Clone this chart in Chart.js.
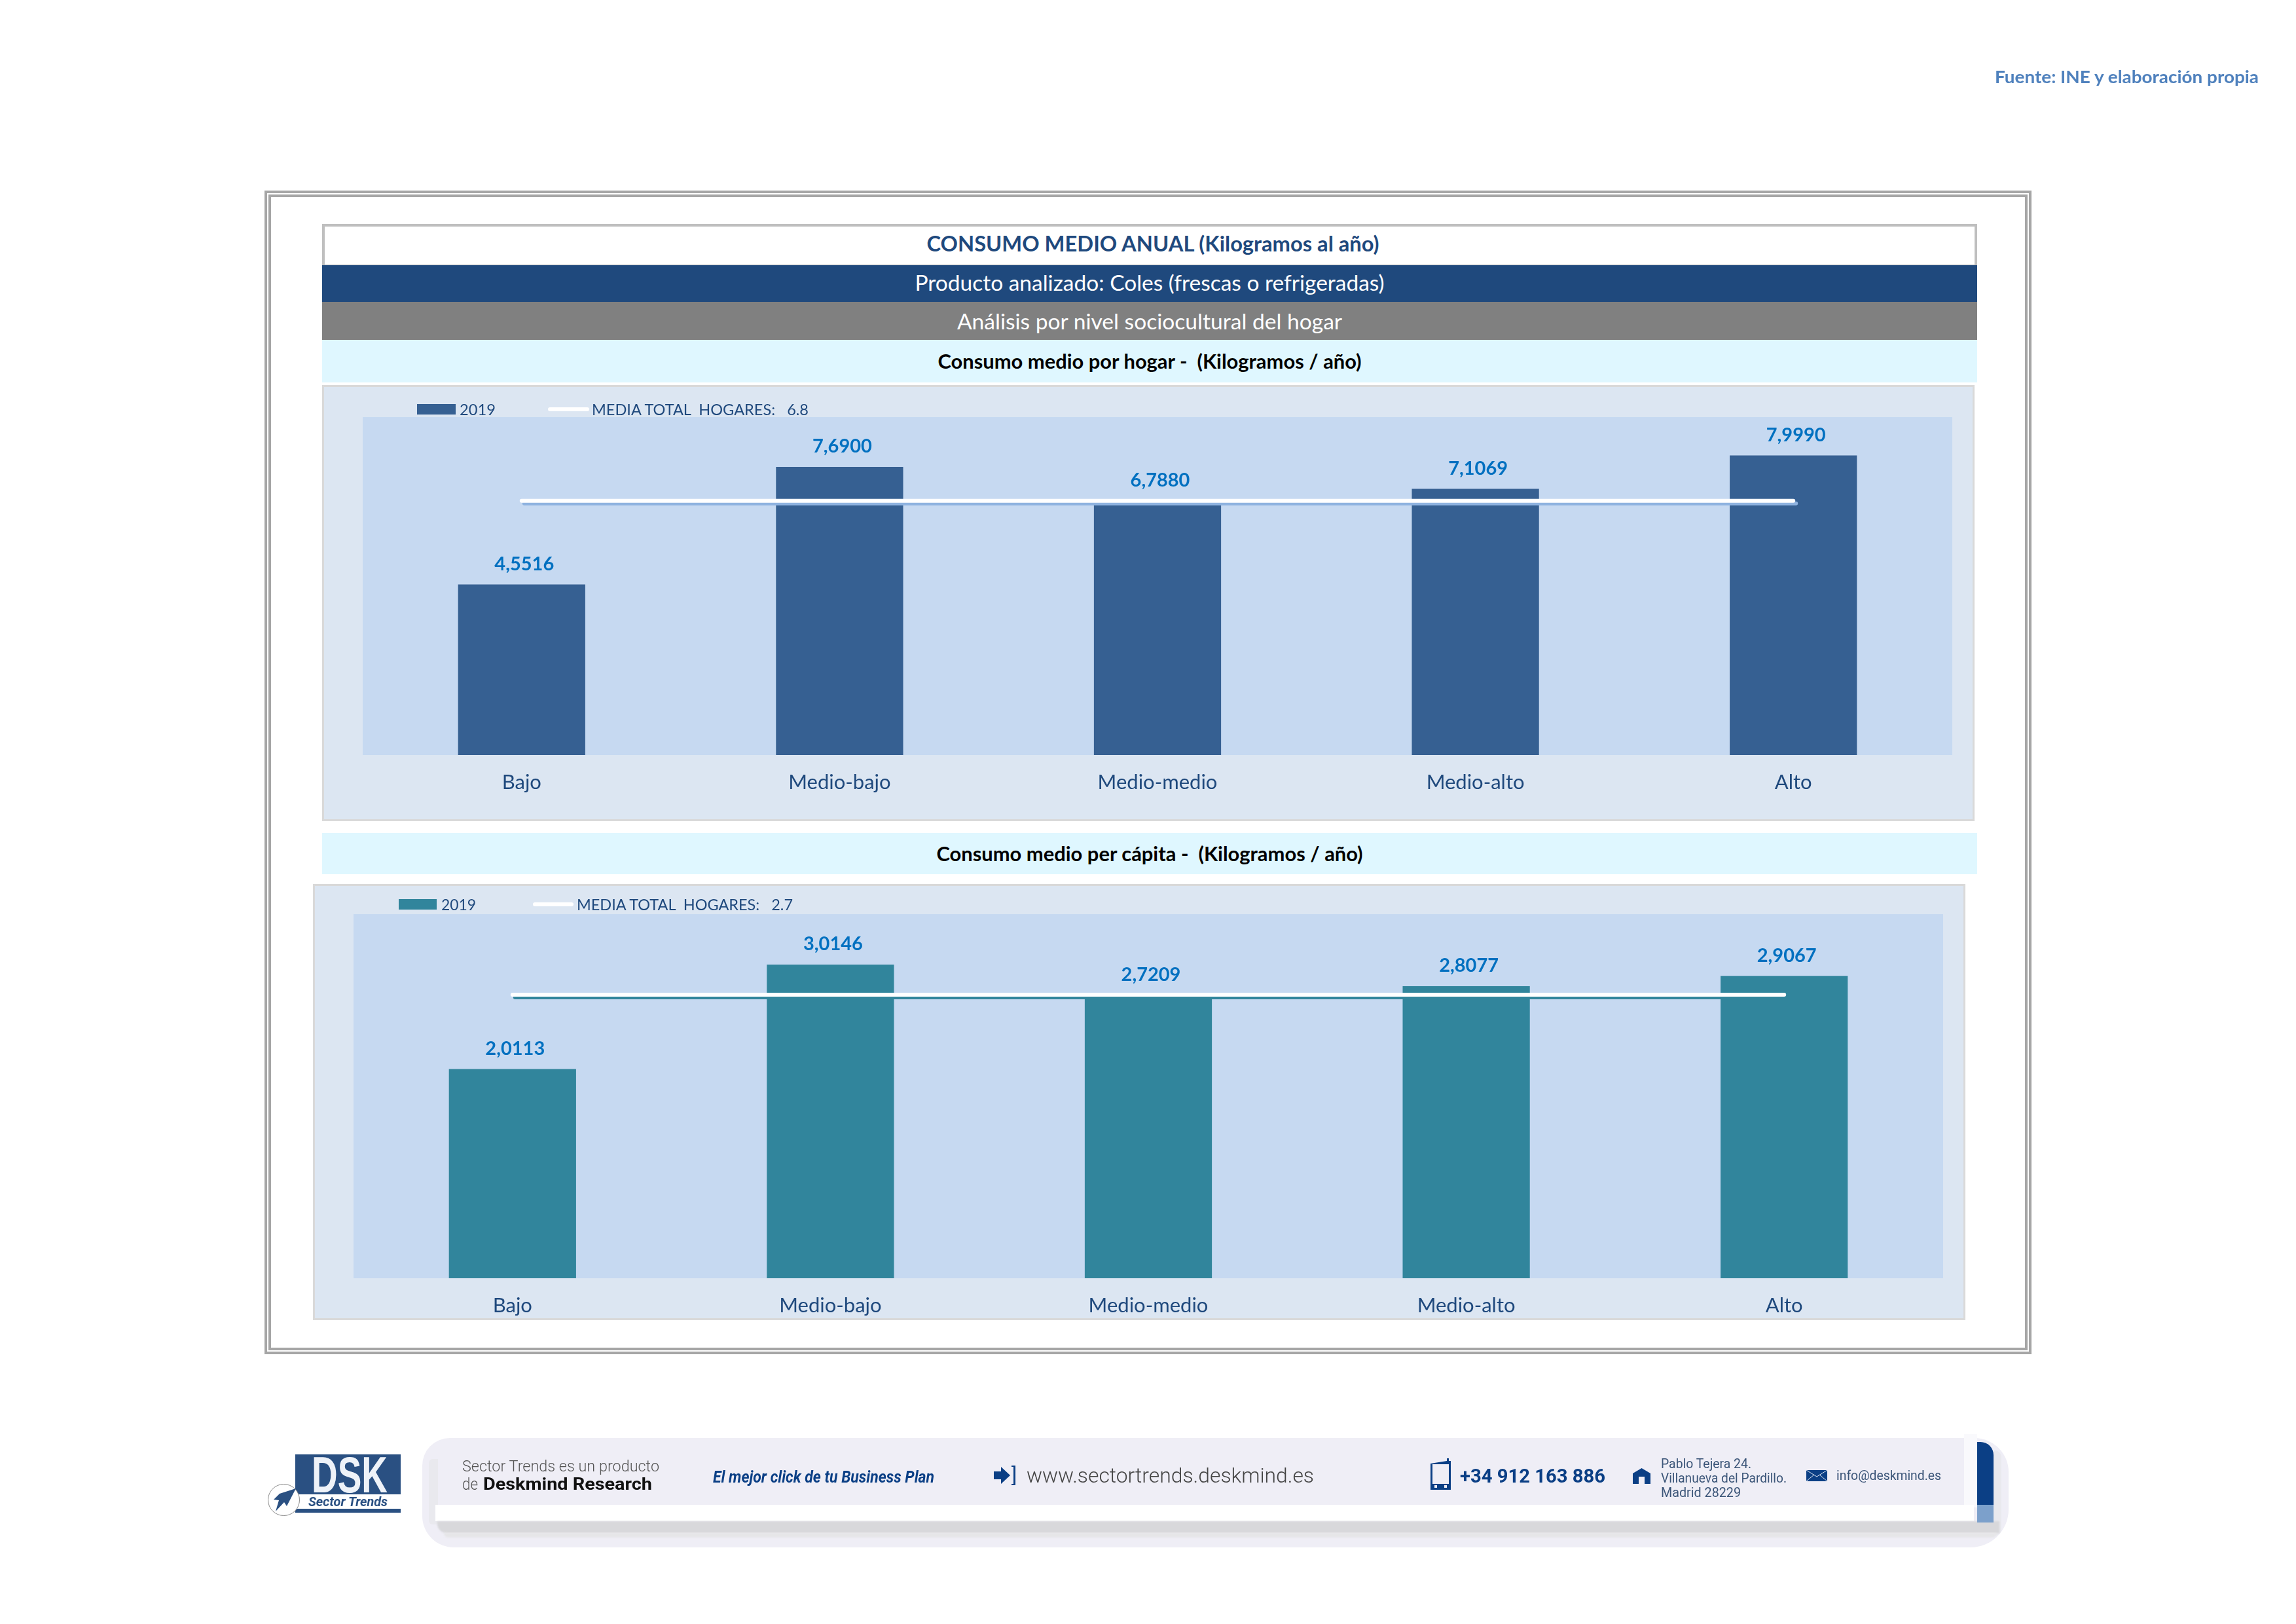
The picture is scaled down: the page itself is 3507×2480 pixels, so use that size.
<!DOCTYPE html>
<html lang="es">
<head>
<meta charset="utf-8">
<title>Consumo medio anual - Coles</title>
<script src="https://cdn.jsdelivr.net/npm/chart.js@4/dist/chart.umd.min.js"></script>
<style>
  html, body { margin: 0; padding: 0; background: #fff; }
  #page { position: relative; width: 3507px; height: 2480px; overflow: hidden; font-family: Lato, sans-serif; }
  #page div, #page span, #page canvas, #page svg { position: absolute; display: block; box-sizing: border-box; }
  .row { text-align: center; white-space: pre; }
  .t { white-space: pre; transform-origin: left center; line-height: 1; }
  canvas { background: #dce6f2; outline: 3px solid #d9d9d9; outline-offset: -3px; }
</style>
</head>
<body>
<div id="page">
  <div class="t" style="left:3047px;top:103px;font-size:27px;font-weight:700;color:#4f81bd" data-w="403">Fuente: INE y elaboración propia</div>

  <div style="left:404px;top:291px;width:2699px;height:1777px;border:4px solid #a6a6a6"></div>
  <div style="left:410px;top:297px;width:2687px;height:1765px;border:4px solid #a6a6a6"></div>

  <div class="row" style="left:492px;top:342px;width:2528px;height:66px;border:4px solid #bfbfbf;line-height:52px;font-size:32.700px;font-weight:700;color:#1f497d;padding-left:10px">CONSUMO MEDIO ANUAL (Kilogramos al año)</div>
  <div class="row" style="left:492px;top:405px;width:2528px;height:56px;background:#1f497d;line-height:52px;font-size:33.500px;color:#fff">Producto analizado: Coles (frescas o refrigeradas)</div>
  <div class="row" style="left:492px;top:461px;width:2528px;height:58px;background:#808080;line-height:58px;font-size:33.600px;color:#fff">Análisis por nivel sociocultural del hogar</div>
  <div class="row" style="left:492px;top:519px;width:2528px;height:65px;background:#dff7ff;line-height:65px;font-size:30.900px;font-weight:700;color:#000">Consumo medio por hogar -  (Kilogramos / año)</div>
  <div class="row" style="left:492px;top:1272px;width:2528px;height:63px;background:#dff7ff;line-height:63px;font-size:30.900px;font-weight:700;color:#000">Consumo medio per cápita -  (Kilogramos / año)</div>

  <canvas id="chartHogar" width="2524" height="666" style="left:492px;top:588px"></canvas>
  <canvas id="chartCapita" width="2524" height="666" style="left:478px;top:1350px"></canvas>

  <!-- leyendas -->
  <div id="swatchHogar" style="left:637px;top:617px;width:59px;height:16px"></div>
  <div id="yearHogar" class="t" style="left:702px;top:613px;font-size:24px;color:#1f497d" data-w="55"></div>
  <div style="left:837px;top:622px;width:63px;height:6px;border-radius:3px;background:#fff"></div>
  <div id="meanHogar" class="t" style="left:904px;top:613px;font-size:24px;color:#1f497d" data-w="331"></div>

  <div id="swatchCapita" style="left:609px;top:1373px;width:58px;height:16px"></div>
  <div id="yearCapita" class="t" style="left:674px;top:1369px;font-size:24px;color:#1f497d" data-w="53"></div>
  <div style="left:814px;top:1378px;width:62px;height:6px;border-radius:3px;background:#fff"></div>
  <div id="meanCapita" class="t" style="left:881px;top:1369px;font-size:24px;color:#1f497d" data-w="330"></div>

  <!-- pie -->
  <div style="left:645px;top:2196px;width:2423px;height:167px;border-radius:42px 52px 58px 48px;background:#efeef6"></div>
  <div style="left:3000px;top:2190px;width:20px;height:112px;background:#f9f9fc"></div>
  <div style="left:655px;top:2228px;width:14px;height:100px;background:#e9e9ee;border-radius:6px 0 0 6px"></div>
  <div style="left:3045px;top:2215px;width:12px;height:130px;background:#e9e9ee;border-radius:0 10px 10px 0"></div>
  <div style="left:665px;top:2298px;width:2350px;height:25px;background:#fff"></div>
  <div style="left:668px;top:2323px;width:2386px;height:18px;background:#d8d8db;border-radius:0 0 0 14px;filter:blur(1px)"></div>
  <div style="left:678px;top:2341px;width:2372px;height:7px;background:#e6e6e8;border-radius:0 0 10px 10px;filter:blur(1px)"></div>
  <div style="left:3020px;top:2202px;width:25px;height:96px;background:#0b3f85;border-radius:0 20px 0 0"></div>
  <div style="left:3020px;top:2298px;width:25px;height:27px;background:#7ca0cb"></div>

  <div class="t" style="left:706px;top:2227px;font-family:Roboto;font-size:24px;font-weight:300;color:#555" data-w="301">Sector Trends es un producto</div>
  <div class="t" style="left:706px;top:2253px;font-family:Roboto;font-size:26px;font-weight:300;color:#555" data-w="24">de</div>
  <div class="t" style="left:738px;top:2253px;font-family:Roboto;font-size:26px;font-weight:700;color:#111" data-w="258">Deskmind Research</div>
  <div class="t" style="left:1089px;top:2243px;font-family:Roboto;font-size:25px;font-weight:700;font-style:italic;color:#0b3f85" data-w="338">El mejor click de tu Business Plan</div>
  <svg style="left:1518px;top:2237px" width="34" height="32" viewBox="0 0 34 32"><path d="M0 10h11V3l14 13-14 13v-7H0z" fill="#0b3f85"/><path d="M27 1h6v30h-6v-2h3V3h-3z" fill="#0b3f85"/></svg>
  <div class="t" style="left:1568px;top:2237px;font-family:Roboto;font-size:32px;font-weight:300;color:#444" data-w="439">www.sectortrends.deskmind.es</div>
  <svg style="left:2185px;top:2227px" width="31" height="48" viewBox="0 0 31 48"><path d="M25 0h3v4h3v44H0V8l25-4z" fill="#0b3f85"/><rect x="3" y="9" width="25" height="30" fill="#efeef6"/><rect x="6" y="41" width="4" height="4" fill="#efeef6"/><rect x="21" y="41" width="4" height="4" fill="#efeef6"/></svg>
  <div class="t" style="left:2230px;top:2239px;font-family:Roboto;font-size:30px;font-weight:700;color:#0b3f85" data-w="222">+34 912 163 886</div>
  <svg style="left:2494px;top:2242px" width="27" height="24" viewBox="0 0 27 24"><path d="M13.500 0L27 8v16h-9V13H9v11H0V8z" fill="#0b3f85"/></svg>
  <div class="t" style="left:2537px;top:2225px;font-family:Roboto;font-size:20px;color:#3b5578" data-w="138">Pablo Tejera 24.</div>
  <div class="t" style="left:2537px;top:2247px;font-family:Roboto;font-size:20px;color:#3b5578" data-w="192">Villanueva del Pardillo.</div>
  <div class="t" style="left:2537px;top:2269px;font-family:Roboto;font-size:20px;color:#3b5578" data-w="122">Madrid 28229</div>
  <svg style="left:2759px;top:2245px" width="32" height="17" viewBox="0 0 32 17"><rect width="32" height="17" fill="#0b3f85"/><path d="M0 0l16 10L32 0M0 17l12-10M32 17L20 7" stroke="#dde6f2" stroke-width="1" fill="none"/></svg>
  <div class="t" style="left:2805px;top:2243px;font-family:Roboto;font-size:20px;color:#3b5578" data-w="160">info@deskmind.es</div>

  <!-- logo -->
  <div style="left:451px;top:2221px;width:161px;height:61px;background:#2a5082"></div>
  <div style="left:451px;top:2304px;width:161px;height:6px;background:#2a5082"></div>
  <div class="t" style="left:476px;top:2213px;font-family:'Liberation Sans';font-size:78px;font-weight:700;color:#eef2f8" data-w="116">DSK</div>
  <div class="t" style="left:471px;top:2283px;font-family:Roboto;font-size:20px;font-weight:700;font-style:italic;color:#2a5082" data-w="121">Sector Trends</div>
  <div style="left:409px;top:2266px;width:49px;height:49px;border:1px solid #888;border-radius:50%;background:#fff"></div>
  <svg style="left:415px;top:2272px" width="38" height="38" viewBox="0 0 38 38"><path d="M37 1L12 9 3 18l8 1-5 17 13-14 4 6z" fill="#2a5082"/></svg>
</div>

<script>
const categories = ['Bajo', 'Medio-bajo', 'Medio-medio', 'Medio-alto', 'Alto'];
const consumoHogar = [4.5516, 7.6900, 6.7880, 7.1069, 7.9990];
const consumoCapita = [2.0113, 3.0146, 2.7209, 2.8077, 2.9067];
const mediaHogar = [6.788, 6.788, 6.788, 6.788, 6.788];
const mediaCapita = [2.725, 2.725, 2.725, 2.725, 2.725];
const yearLabel = '2019';
const mediaHogarLabel = 'MEDIA TOTAL  HOGARES:   6.8';
const mediaCapitaLabel = 'MEDIA TOTAL  HOGARES:   2.7';

// fondo del area de trazado
const plotBackground = {
  id: 'plotBackground',
  beforeDraw(chart) {
    const { ctx, chartArea: a } = chart;
    ctx.save();
    ctx.fillStyle = '#c6d9f1';
    ctx.fillRect(a.left, a.top, a.width, a.height);
    ctx.restore();
  }
};

// sombra de la linea de media
const lineShadow = {
  id: 'lineShadow',
  beforeDatasetDraw(chart, args, opts) {
    if (args.meta.type !== 'line') return;
    const ctx = chart.ctx;
    ctx.save();
    ctx.shadowColor = opts.color;
    ctx.shadowOffsetX = 4;
    ctx.shadowOffsetY = 4;
    ctx.shadowBlur = 0;
  },
  afterDatasetDraw(chart, args) {
    if (args.meta.type === 'line') chart.ctx.restore();
  }
};

// valores encima de las barras
const valueLabels = {
  id: 'valueLabels',
  afterDatasetsDraw(chart) {
    const ctx = chart.ctx;
    const meta = chart.getDatasetMeta(0);
    ctx.save();
    ctx.font = '700 29px Lato';
    ctx.fillStyle = '#0070c0';
    ctx.textAlign = 'center';
    ctx.textBaseline = 'middle';
    meta.data.forEach((bar, i) => {
      const value = chart.data.datasets[0].data[i];
      ctx.fillText(value.toFixed(4).replace('.', ','), bar.x + 4, bar.y - 31);
    });
    ctx.restore();
  }
};

function drawChart(id, values, mean, meanLabel, color, shadow, yMax, padding, axisHeight) {
  return new Chart(document.getElementById(id), {
    type: 'bar',
    data: {
      labels: categories,
      datasets: [
        { type: 'bar', label: yearLabel, data: values, backgroundColor: color,
          barPercentage: 0.4, categoryPercentage: 1, order: 2 },
        { type: 'line', label: meanLabel, data: mean, borderColor: '#fff', borderWidth: 6,
          borderCapStyle: 'round', pointRadius: 0, tension: 0, order: 1 }
      ]
    },
    options: {
      responsive: false,
      animation: false,
      devicePixelRatio: 1,
      layout: { padding },
      plugins: {
        legend: { display: false },
        tooltip: { enabled: false },
        lineShadow: { color: shadow }
      },
      scales: {
        x: {
          grid: { display: false },
          border: { display: false },
          ticks: { color: '#1f497d', font: { family: 'Lato', size: 31 }, padding: 15, maxRotation: 0 },
          afterFit(scale) { scale.height = axisHeight; }
        },
        y: { display: false, min: 0, max: yMax }
      }
    },
    plugins: [plotBackground, lineShadow, valueLabels]
  });
}

drawChart('chartHogar', consumoHogar, mediaHogar, mediaHogarLabel, '#366092', '#8fb3e0', 9.02,
  { left: 62, right: 34, top: 49, bottom: 0 }, 101);
drawChart('chartCapita', consumoCapita, mediaCapita, mediaCapitaLabel, '#31859c', '#31859c', 3.5,
  { left: 62, right: 34, top: 46, bottom: 0 }, 64);

document.getElementById('swatchHogar').style.background = '#366092';
document.getElementById('swatchCapita').style.background = '#31859c';
document.getElementById('yearHogar').textContent = yearLabel;
document.getElementById('yearCapita').textContent = yearLabel;
document.getElementById('meanHogar').textContent = mediaHogarLabel;
document.getElementById('meanCapita').textContent = mediaCapitaLabel;

// ajusta el ancho de los textos al original
document.querySelectorAll('[data-w]').forEach(el => {
  const w = el.getBoundingClientRect().width;
  el.style.transform = 'scaleX(' + (el.dataset.w / w) + ')';
});
</script>
</body>
</html>
